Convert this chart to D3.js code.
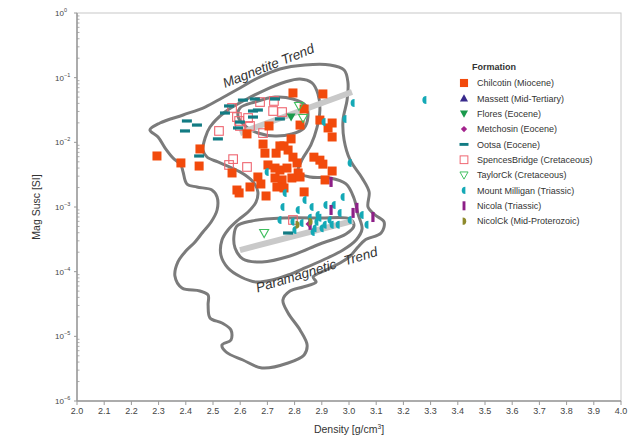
<!DOCTYPE html>
<html><head><meta charset="utf-8">
<script src="https://cdn.jsdelivr.net/npm/d3@7"></script>
<style>
body{margin:0;background:#fff}
text{font-family:"Liberation Sans",Arial,sans-serif}
</style>
</head><body>
<svg id="chart" width="628" height="437"></svg>
<script>
// Axis ticks
const xTicks = [2.0,2.1,2.2,2.3,2.4,2.5,2.6,2.7,2.8,2.9,3.0,3.1,3.2,3.3,3.4,3.5,3.6,3.7,3.8,3.9,4.0];
const yExponents = [0,-1,-2,-3,-4,-5,-6];

// Sample measurements: [density g/cm3, magnetic susceptibility SI]
const chilcotin = [[2.294,6.15e-3],[2.382,4.8e-3],[2.452,7.9e-3],[2.449,4.3e-3],[2.570,3.36e-3],[2.588,1.83e-3],[2.596,1.65e-3],[2.636,2.04e-3],[2.665,2.91e-3],[2.676,2.27e-3],[2.695,1.48e-3],[2.625,1.35e-2],[2.794,5.8e-2],[2.904,5.6e-2],[2.835,3.28e-2],[2.820,1.85e-2],[2.706,1.79e-2],[2.684,9.4e-3],[2.691,6.8e-3],[2.732,6.8e-3],[2.761,8.8e-3],[2.787,1.13e-2],[2.776,7.6e-3],[2.794,5.9e-3],[2.809,4.8e-3],[2.702,4.47e-3],[2.728,4.0e-3],[2.746,3.73e-3],[2.772,4.0e-3],[2.813,3.36e-3],[2.728,2.81e-3],[2.754,2.62e-3],[2.790,2.81e-3],[2.820,2.91e-3],[2.735,2.04e-3],[2.761,1.97e-3],[2.893,2.21e-2],[2.938,1.99e-2],[2.923,1.67e-2],[2.938,1.21e-2],[2.871,5.9e-3],[2.893,5.3e-3],[2.904,4.6e-3],[2.938,3.6e-3],[2.912,2.62e-3],[2.835,1.71e-3],[2.746,8.8e-3]];
const massett = [];
const flores = [[2.787,2.46e-2]];
const metchosin = [[2.853,5.46e-4]];
const ootsa = [[2.404,2.14e-2],[2.441,1.85e-2],[2.397,1.50e-2],[2.518,1.13e-2],[2.559,3.65e-2],[2.610,4.5e-2],[2.654,4.68e-2],[2.647,3.05e-2],[2.665,3.16e-2],[2.647,2.46e-2],[2.599,2.06e-2],[2.592,1.67e-2],[2.728,4.68e-2],[2.746,2.3e-2],[2.449,6.15e-3],[2.776,3.96e-4],[2.544,2.84e-2]];
const spencesBridge = [[2.522,1.50e-2],[2.570,3.4e-2],[2.588,2.46e-2],[2.596,2.14e-2],[2.599,1.79e-2],[2.629,2.38e-2],[2.636,1.79e-2],[2.673,4.2e-2],[2.724,4.36e-2],[2.721,3.05e-2],[2.754,2.94e-2],[2.684,1.39e-2],[2.574,5.5e-3],[2.559,4.47e-3],[2.625,4.16e-3],[2.794,6.3e-4]];
const taylorCk = [[2.816,3.65e-2],[2.831,2.38e-2],[2.688,3.96e-4]];
const mountMilligan = [[3.279,4.5e-2],[3.015,4.06e-2],[2.985,2.3e-2],[2.908,2.06e-2],[3.004,4.8e-3],[2.699,3.48e-3],[2.978,1.43e-3],[2.838,1.28e-3],[2.765,1.65e-3],[2.757,1.0e-3],[2.813,9.0e-4],[2.864,1.0e-3],[2.915,1.07e-3],[2.945,1.07e-3],[2.746,6.3e-4],[2.794,5.9e-4],[2.827,5.66e-4],[2.882,5.9e-4],[2.930,6.3e-4],[2.960,5.3e-4],[3.004,6.3e-4],[3.066,5.3e-4],[2.801,4.4e-4],[2.967,8.1e-4],[3.048,7.5e-4],[2.886,7.5e-4],[2.875,4.7e-4],[2.901,4.7e-4],[2.857,6.8e-4],[2.893,6.8e-4],[2.868,4.1e-4],[2.912,5.3e-4],[2.938,5.3e-4]];
const nicola = [[2.934,2.44e-3],[2.934,9.0e-4],[3.029,9.7e-4],[3.015,8.1e-4],[3.088,7.0e-4],[2.857,5.3e-4]];
const nicolCk = [[2.809,5.3e-4],[2.857,5.9e-4]];

// Trend lines: [density, susceptibility]
const magnetiteTrend = [[2.599,1.39e-2],[3.011,6.0e-2]];
const paramagneticTrend = [[2.599,2.16e-4],[3.015,6.1e-4]];

// Density contours: [density, log10 susceptibility]
const contourOuter = [[2.268,-1.809],[2.305,-1.701],[2.390,-1.577],[2.471,-1.454],[2.533,-1.314],[2.599,-1.160],[2.665,-1.005],[2.746,-0.866],[2.838,-0.804],[2.930,-0.804],[2.982,-0.881],[2.996,-1.067],[2.993,-1.345],[2.978,-1.655],[2.982,-1.964],[3.004,-2.273],[3.048,-2.551],[3.074,-2.768],[3.070,-3.000],[3.096,-3.124],[3.129,-3.232],[3.118,-3.402],[3.059,-3.510],[3.033,-3.619],[3.004,-3.758],[2.967,-3.866],[2.915,-3.974],[2.868,-4.082],[2.879,-4.160],[2.831,-4.237],[2.783,-4.299],[2.757,-4.438],[2.776,-4.639],[2.820,-4.902],[2.846,-5.134],[2.835,-5.288],[2.776,-5.412],[2.680,-5.489],[2.610,-5.366],[2.548,-5.242],[2.533,-5.134],[2.566,-5.056],[2.566,-4.902],[2.533,-4.794],[2.489,-4.716],[2.482,-4.515],[2.482,-4.361],[2.452,-4.299],[2.386,-4.252],[2.360,-4.067],[2.371,-3.850],[2.397,-3.696],[2.434,-3.541],[2.463,-3.386],[2.493,-3.232],[2.515,-3.046],[2.515,-2.845],[2.496,-2.737],[2.441,-2.691],[2.404,-2.644],[2.390,-2.459],[2.382,-2.350],[2.353,-2.242],[2.324,-2.088],[2.298,-1.917]];
const contourMiddle = [[2.463,-2.118],[2.471,-1.933],[2.489,-1.763],[2.544,-1.531],[2.618,-1.345],[2.691,-1.191],[2.765,-1.067],[2.820,-1.021],[2.864,-1.082],[2.886,-1.253],[2.893,-1.500],[2.882,-1.778],[2.860,-2.041],[2.827,-2.273],[2.813,-2.459],[2.857,-2.536],[2.930,-2.551],[2.989,-2.644],[3.018,-2.861],[3.033,-3.108],[3.048,-3.340],[3.026,-3.510],[2.978,-3.665],[2.912,-3.804],[2.838,-3.943],[2.776,-4.051],[2.717,-4.129],[2.658,-4.160],[2.603,-4.082],[2.555,-3.943],[2.529,-3.742],[2.533,-3.510],[2.555,-3.355],[2.592,-3.201],[2.629,-3.077],[2.658,-2.923],[2.665,-2.768],[2.651,-2.629],[2.618,-2.505],[2.570,-2.397],[2.518,-2.304],[2.478,-2.227]];
const contourMagnetite = [[2.599,-1.469],[2.654,-1.376],[2.728,-1.299],[2.794,-1.330],[2.842,-1.438],[2.849,-1.608],[2.835,-1.778],[2.790,-1.871],[2.728,-1.902],[2.665,-1.856],[2.614,-1.732],[2.592,-1.593]];
const contourParamagnetic = [[2.588,-3.294],[2.643,-3.216],[2.757,-3.170],[2.893,-3.170],[3.004,-3.185],[3.018,-3.294],[2.989,-3.417],[2.893,-3.572],[2.783,-3.758],[2.680,-3.850],[2.610,-3.804],[2.581,-3.634],[2.577,-3.448]];

const legendNames = ["Chilcotin (Miocene)","Massett (Mid-Tertiary)","Flores (Eocene)","Metchosin (Eocene)","Ootsa (Eocene)","SpencesBridge (Cretaceous)","TaylorCk (Cretaceous)","Mount Milligan (Triassic)","Nicola (Triassic)","NicolCk (Mid-Proterozoic)"];

const svg = d3.select("#chart");
const x = d3.scaleLinear().domain([2,4]).range([77,621]);
const y = d3.scaleLog().domain([1e-6,1]).range([401,13]);

// Marker shapes
const shapes = {
  squareFill: (g,c)=>g.append("rect").attr("x",-4.5).attr("y",-4.5).attr("width",9).attr("height",9).attr("fill",c),
  triUp: (g,c)=>g.append("path").attr("d","M0,-4.5L4.5,3.5L-4.5,3.5Z").attr("fill",c),
  triDown: (g,c)=>g.append("path").attr("d","M-4.5,-3.5L4.5,-3.5L0,4.5Z").attr("fill",c),
  diamond: (g,c)=>g.append("path").attr("d","M0,-3.5L3.5,0L0,3.5L-3.5,0Z").attr("fill",c),
  dash: (g,c)=>g.append("rect").attr("x",-5).attr("y",-1.6).attr("width",10).attr("height",3.2).attr("fill",c),
  squareOpen: (g,c)=>g.append("rect").attr("x",-4.3).attr("y",-4.3).attr("width",8.6).attr("height",8.6).attr("fill","none").attr("stroke",c).attr("stroke-width",1.1),
  triDownOpen: (g,c)=>g.append("path").attr("d","M-4.5,-3.5L4.5,-3.5L0,4.5Z").attr("fill","none").attr("stroke",c).attr("stroke-width",1.1),
  halfLeft: (g,c)=>g.append("path").attr("d","M1.5,-4A4,4 0 0 0 1.5,4Z").attr("fill",c),
  bar: (g,c)=>g.append("rect").attr("x",-1.6).attr("y",-5).attr("width",3.2).attr("height",10).attr("fill",c),
  halfRight: (g,c)=>g.append("path").attr("d","M-1.5,-4A4,4 0 0 1 -1.5,4Z").attr("fill",c)
};

const series = [
  {data: spencesBridge, shape:"squareOpen", color:"#ef6671"},
  {data: ootsa, shape:"dash", color:"#127b83"},
  {data: chilcotin, shape:"squareFill", color:"#f24a0c"},
  {data: massett, shape:"triUp", color:"#382a8c"},
  {data: flores, shape:"triDown", color:"#1a9a4c"},
  {data: taylorCk, shape:"triDownOpen", color:"#3fbf5e"},
  {data: mountMilligan, shape:"halfLeft", color:"#14a9b6"},
  {data: nicola, shape:"bar", color:"#8d1f87"},
  {data: metchosin, shape:"diamond", color:"#a3238d"},
  {data: nicolCk, shape:"halfRight", color:"#8e8a2c"}
];
const legendOrder = [2,3,4,8,1,0,5,6,7,9];

// Frame
svg.append("rect").attr("x",x(2)).attr("y",y(1)).attr("width",x(4)-x(2)).attr("height",y(1e-6)-y(1))
  .attr("fill","none").attr("stroke","#c8c8c8").attr("stroke-width",1);

// Contours
const contourLine = d3.line().x(d=>x(d[0])).y(d=>y(Math.pow(10,d[1]))).curve(d3.curveCatmullRomClosed.alpha(0.5));
[contourOuter, contourMiddle, contourMagnetite, contourParamagnetic].forEach(c=>{
  svg.append("path").attr("d",contourLine(c)).attr("fill","none").attr("stroke","#7b7b7b").attr("stroke-width",3).attr("stroke-linejoin","round");
});

// Trend lines
const trendLine = d3.line().x(d=>x(d[0])).y(d=>y(d[1]));
[magnetiteTrend, paramagneticTrend].forEach(t=>{
  svg.append("path").attr("d",trendLine(t)).attr("stroke","#c9c9c9").attr("stroke-width",6).attr("fill","none");
});

// Points
series.forEach(s=>{
  s.data.forEach(p=>{
    const g = svg.append("g").attr("transform",`translate(${x(p[0])},${y(p[1])})`);
    shapes[s.shape](g,s.color);
  });
});

// Trend labels
function trendLabel(txt, d, s, angle, gap){
  svg.append("text").attr("transform",`translate(${x(d)},${y(s)}) rotate(${angle})`)
    .attr("text-anchor","middle").attr("font-size",13.5).attr("font-style","italic").attr("fill","#333")
    .attr("word-spacing",gap).text(txt);
}
trendLabel("Magnetite Trend", 2.710, 0.131, -21.7, 0);
trendLabel("Paramagnetic Trend", 2.886, 9.2e-5, -17, 5);

// Axes
const axisColor = "#9a9a9a";
const xAxis = svg.append("g").attr("transform",`translate(0,${y(1e-6)})`);
xAxis.append("line").attr("x1",x(2)).attr("x2",x(4)).attr("stroke",axisColor).attr("stroke-width",1.5);
xTicks.forEach(t=>{
  xAxis.append("line").attr("x1",x(t)).attr("x2",x(t)).attr("y1",0).attr("y2",4).attr("stroke",axisColor);
  xAxis.append("text").attr("x",x(t)).attr("y",13).attr("text-anchor","middle").attr("font-size",9).attr("fill","#444").text(t.toFixed(1));
});
const yAxis = svg.append("g");
yAxis.append("line").attr("x1",x(2)).attr("x2",x(2)).attr("y1",y(1)).attr("y2",y(1e-6)).attr("stroke",axisColor).attr("stroke-width",1.5);
yExponents.forEach(e=>{
  const v = Math.pow(10,e);
  yAxis.append("line").attr("x1",x(2)-3).attr("x2",x(2)).attr("y1",y(v)).attr("y2",y(v)).attr("stroke",axisColor);
  yAxis.append("text").attr("x",x(2)-13).attr("y",y(v)+3).attr("text-anchor","end").attr("font-size",8).attr("fill","#444").text("10");
  yAxis.append("text").attr("x",x(2)-13).attr("y",y(v)-1).attr("font-size",5.5).attr("fill","#444").text(e===0?"0":"\u2212"+(-e));
  if(e>-6){
    for(let k=2;k<=9;k++){
      const mv = v*k/10;
      yAxis.append("line").attr("x1",x(2)).attr("x2",x(2)+2.5).attr("y1",y(mv)).attr("y2",y(mv)).attr("stroke",axisColor).attr("stroke-width",0.8);
    }
  }
});

// Axis titles
svg.append("text").attr("x",349).attr("y",433).attr("text-anchor","middle").attr("font-size",10.5).attr("fill","#333")
  .html('Density [g/cm<tspan dy="-4" font-size="6.5">3</tspan><tspan dy="4">]</tspan>');
svg.append("text").attr("transform","translate(40,207) rotate(-90)").attr("text-anchor","middle").attr("font-size",10.5).attr("fill","#333").text("Mag Susc [SI]");

// Legend
const legend = svg.append("g").attr("transform","translate(464,67)");
legend.append("text").attr("x",8).attr("y",3).attr("font-family","Open Sans").attr("font-weight","bold").attr("font-size",9).attr("fill","#333").text("Formation");
legendOrder.forEach((si,i)=>{
  const s = series[si];
  const gy = 16 + i*15.35;
  const g = legend.append("g").attr("transform",`translate(0,${gy})`);
  shapes[s.shape](g.append("g").attr("transform","scale(0.9)"), s.color);
  g.append("text").attr("x",13).attr("y",3.3).attr("font-family","Open Sans").attr("font-size",9).attr("fill","#333").text(legendNames[i]);
});
</script>
</body></html>
